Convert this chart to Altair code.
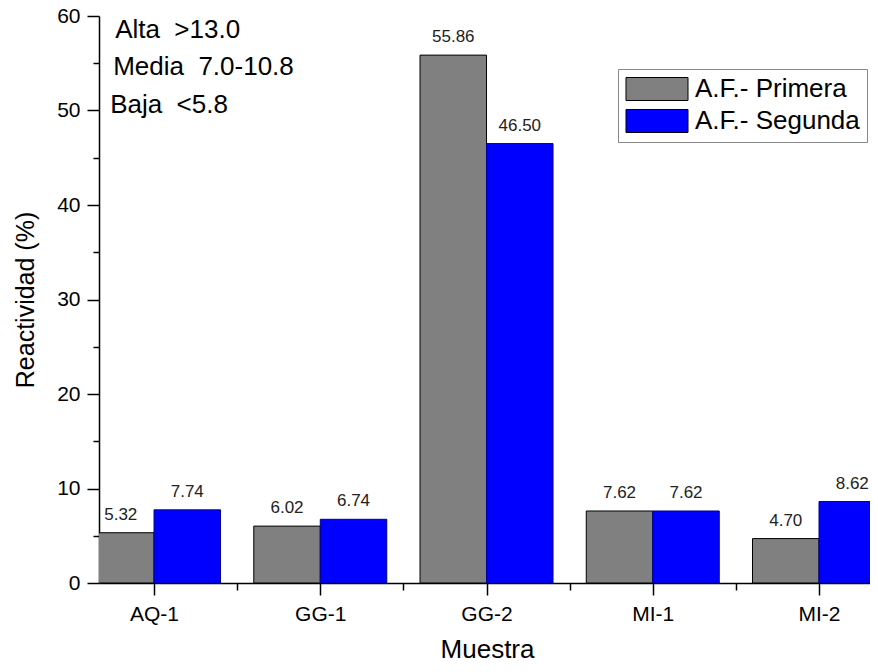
import json
import altair as alt
import pandas as pd

categories = ["AQ-1", "GG-1", "GG-2", "MI-1", "MI-2"]
series = ["A.F.- Primera", "A.F.- Segunda"]
primera = [5.32, 6.02, 55.86, 7.62, 4.70]
segunda = [7.74, 6.74, 46.50, 7.62, 8.62]
colors = ["#808080", "#0000ff"]

notes = ["Alta\u00a0\u00a0>13.0", "Media\u00a0\u00a07.0-10.8", "Baja\u00a0\u00a0<5.8"]
note_x = [-0.234, -0.246, -0.264]
note_y = [57.65, 53.78, 49.76]

rows = []
for i, c in enumerate(categories):
    for s, (name, vals) in enumerate(zip(series, [primera, segunda])):
        rows.append({"cat": c, "idx": i, "side": s, "series": name, "value": vals[i]})
df = pd.DataFrame(rows)
notes_df = pd.DataFrame({"note": notes, "nx": note_x, "ny": note_y})

FONT = "Liberation Sans"
xscale = alt.Scale(domain=[-0.331, 4.3067], nice=False, zero=False)
yscale = alt.Scale(domain=[0, 60], nice=False, zero=True)

cat_js = json.dumps(categories)
x_axis = alt.Axis(
    values=[0, 0.5, 1, 1.5, 2, 2.5, 3, 3.5, 4],
    labelExpr=f"datum.value % 1 === 0 ? {cat_js}[datum.value] : ''",
    tickSize={"condition": {"test": "datum.value % 1 !== 0", "value": 7}, "value": 12},
    labelPadding=8,
    labelFontSize=21,
    labelFont=FONT,
    labelColor="black",
    labelOverlap=False,
    labelFlush=False,
    grid=False,
    domainColor="black",
    domainWidth=1.5,
    tickColor="black",
    tickWidth=1.5,
    title="Muestra",
    titleFont=FONT,
    titleFontSize=26,
    titleFontWeight="normal",
    titleColor="black",
    titleX=388,
    titleY=74,
    titleBaseline="alphabetic",
    titleAnchor="middle",
    titleAlign="center",
)
y_axis = alt.Axis(
    values=list(range(0, 61, 5)),
    labelExpr="datum.value % 10 === 0 ? datum.label : ''",
    tickSize={"condition": {"test": "datum.value % 10 !== 0", "value": 6}, "value": 12},
    labelPadding=7,
    labelFontSize=21,
    labelFont=FONT,
    labelColor="black",
    labelOverlap=False,
    labelFlush=False,
    grid=False,
    domainColor="black",
    domainWidth=1.5,
    tickColor="black",
    tickWidth=1.5,
    title="Reactividad (%)",
    titleFont=FONT,
    titleFontSize=25,
    titleFontWeight="normal",
    titleColor="black",
    titleAngle=270,
    titleX=-66,
    titleY=283.5,
    titleBaseline="alphabetic",
    titleAlign="center",
)

base = alt.Chart(df).transform_calculate(
    x0="datum.idx - 0.4 + 0.4 * datum.side",
    x1="datum.idx + 0.4 * datum.side",
    xc="datum.idx - 0.2 + 0.4 * datum.side",
)

rect_path = "M-2.696,-1H2.696V1H-2.696Z"
bars = base.mark_bar(clip=True, strokeWidth=1).encode(
    x=alt.X("x0:Q", scale=xscale, axis=x_axis),
    x2="x1:Q",
    y=alt.Y("value:Q", scale=yscale, axis=y_axis),
    y2=alt.datum(0),
    color=alt.Color(
        "series:N",
        scale=alt.Scale(domain=series, range=colors),
        legend=alt.Legend(
            orient="none",
            legendX=519,
            legendY=53,
            title=None,
            symbolType=rect_path,
            symbolSize=529,
            symbolOffset=19,
            symbolStrokeColor="black",
            symbolStrokeWidth=1,
            symbolOpacity=1,
            labelFont=FONT,
            labelFontSize=26,
            labelColor="black",
            labelOffset=25,
            labelLimit=400,
            padding=7,
            rowPadding=4,
            strokeColor="#888888",
            fillColor="white",
        ),
    ),
    stroke=alt.condition("datum.side === 1", alt.value("#00008b"), alt.value("black")),
    opacity=alt.value(1),
)

labels = base.mark_text(
    dy=-13, baseline="alphabetic", align="center", font=FONT, fontSize=17, color="#222222"
).encode(
    x=alt.X("xc:Q", scale=xscale),
    y=alt.Y("value:Q", scale=yscale),
    text=alt.Text("value:Q", format=".2f"),
)

note_layer = alt.Chart(notes_df).mark_text(
    align="left", baseline="alphabetic", font=FONT, fontSize=26, color="black"
).encode(
    x=alt.X("nx:Q", scale=xscale),
    y=alt.Y("ny:Q", scale=yscale),
    text="note:N",
)

chart = alt.layer(bars, labels, note_layer).properties(
    width=771,
    height=567,
    autosize=alt.AutoSizeParams(type="none"),
    padding={"left": 91, "top": 8, "right": 0, "bottom": 77},
    background="white",
).configure_view(stroke=None)

chart.save("out.html", embed_options={"renderer": "svg", "actions": False})
